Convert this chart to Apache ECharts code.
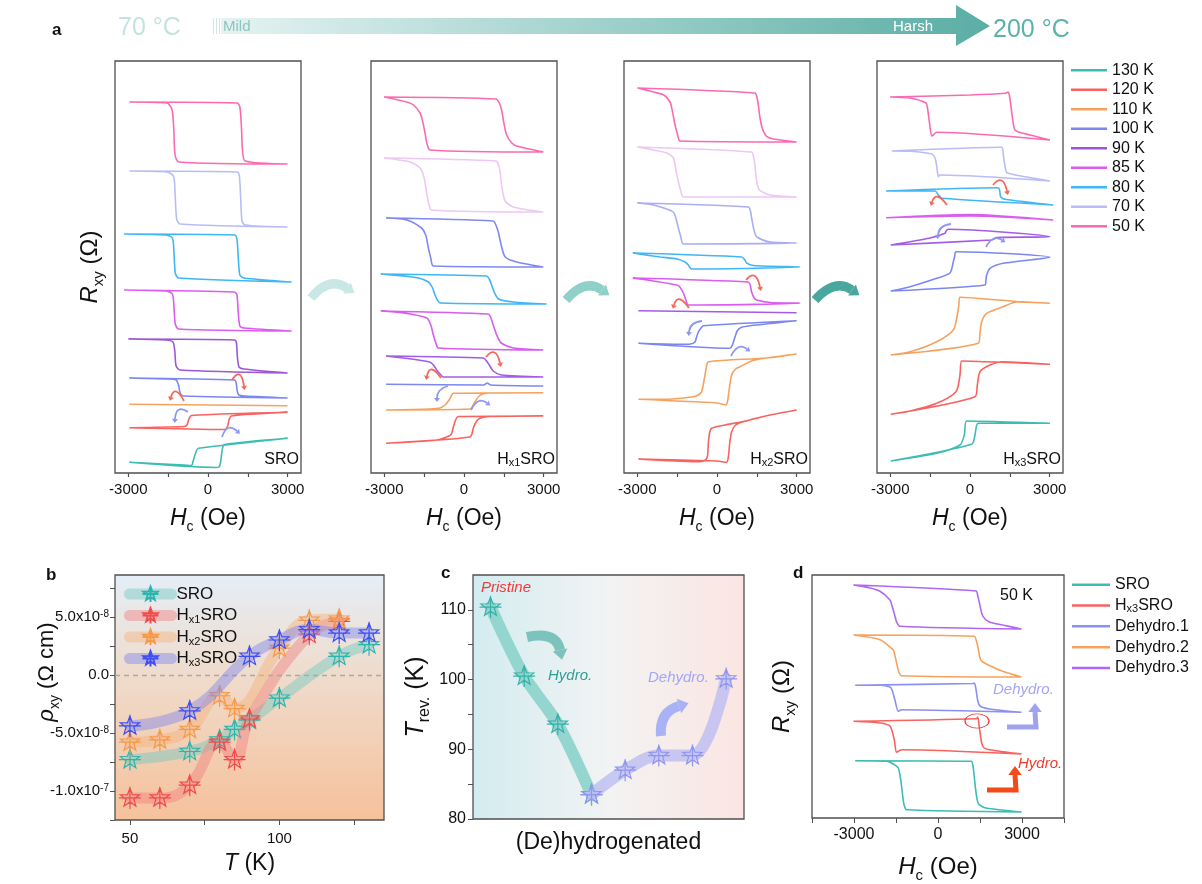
<!DOCTYPE html>
<html>
<head>
<meta charset="utf-8">
<script src="https://cdn.jsdelivr.net/npm/echarts@6/dist/echarts.min.js"></script>
<style>
  html, body { margin: 0; padding: 0; background: #fff; }
  #main { width: 1202px; height: 884px; }
</style>
</head>
<body>
<div id="main"></div>
<script>
var FONT = 'Arial, "Liberation Sans", Helvetica, sans-serif';
var INK = '#111';
var FRAME = '#505050';

// ---------------- panel a : Rxy(H) loops, points are [H (Oe), stacked Rxy offset] ----------------
var tempNames = ['50 K', '70 K', '80 K', '85 K', '90 K', '100 K', '110 K', '120 K', '130 K'];
var legendTemps = ['130 K', '120 K', '110 K', '100 K', '90 K', '85 K', '80 K', '70 K', '50 K'];
var sroColors = ['#fb6ab0', '#b9bcf5', '#3fb6f5', '#dc5cf2', '#9b58d6', '#7d87f2', '#f6a25e', '#f8625f', '#3bbdb3'];
var hx1Colors = ['#fb6ab0', '#ecc8f2', '#8088f2', '#3fb6f5', '#d75cf0', '#a35ce6', '#7d87f2', '#f6a25e', '#f8625f'];
var hx2Colors = ['#fb6ab0', '#ecc8f2', '#a9aef6', '#3fb6f5', '#dc5cf2', '#a35ce6', '#7d87f2', '#f6a25e', '#f8625f'];
var hx3Colors = ['#fb6ab0', '#b9bcf5', '#3fb6f5', '#dc5cf2', '#a35ce6', '#7d87f2', '#f6a25e', '#f8625f', '#3bbdb3'];

var sroLoops = [
  [[-2958,371],[1100,370],[1200,366],[1260,345],[1300,322],[1400,312],[2995,309],[-1100,311],[-1240,318],[-1290,345],[-1360,364],[-1550,370],[-2958,371]],
  [[-2958,302],[1100,301],[1180,297],[1230,275],[1280,252],[1400,248],[2995,246],[-1050,249],[-1180,254],[-1240,280],[-1300,297],[-1550,301],[-2958,302]],
  [[-3158,239],[1000,238],[1090,234],[1140,215],[1200,198],[1350,195],[3146,191],[-1110,195],[-1230,200],[-1280,220],[-1340,235],[-1600,238],[-3158,239]],
  [[-3158,183],[1000,181],[1090,178],[1140,160],[1200,147],[1350,145],[3146,142],[-1110,144],[-1230,149],[-1280,165],[-1340,179],[-1600,182],[-3158,183]],
  [[-2996,134],[1000,133],[1070,130],[1110,115],[1170,106],[1350,104],[2995,100],[-1050,103],[-1200,107],[-1250,122],[-1320,131],[-1600,133],[-2996,134]],
  [[-2958,95],[1000,93],[1060,90],[1100,82],[1160,78],[1400,77],[2995,75],[-930,77],[-1050,80],[-1110,88],[-1200,93],[-1600,94],[-2958,95]],
  [[-2958,68.7],[2995,67.3]],
  [[-2958,45.3],[650,43.5],[740,47],[790,53],[880,57],[2995,60.7],[-620,57.5],[-720,54],[-790,48],[-900,46.5],[-2958,45.3]],
  [[-2958,10.7],[300,5.5],[420,6],[480,12],[540,24],[620,28.5],[2995,34.7],[-360,24.7],[-440,22],[-560,12],[-620,7.5],[-900,8],[-2958,10.7]]
];
var hx1Loops = [
  [[-3008,376],[1203,374],[1330,370],[1416,363],[1500,350],[1604,338],[1800,330],[1981,327],[2983,321],[-1278,323],[-1400,330],[-1466,340],[-1560,352],[-1654,360],[-1900,368],[-2156,371],[-3008,376]],
  [[-3008,315],[1203,312],[1300,308],[1354,302],[1430,285],[1550,272],[1855,266],[2983,261],[-1216,263],[-1330,270],[-1404,280],[-1500,295],[-1650,305],[-2030,311],[-3008,315]],
  [[-2933,255],[1103,252],[1200,248],[1291,241],[1400,228],[1550,216],[1981,211],[2983,206],[-1153,207],[-1250,215],[-1341,225],[-1440,238],[-1600,245],[-2156,253],[-2933,255]],
  [[-3133,199],[852,197],[950,194],[1040,188],[1150,180],[1300,174],[1855,171],[3108,169],[-902,170],[-1000,173],[-1090,178],[-1200,186],[-1341,191],[-1700,195],[-2281,197],[-3133,199]],
  [[-3133,162],[915,159],[1000,156],[1100,148],[1230,138],[1400,130],[1855,125],[2983,123],[-965,125],[-1060,130],[-1153,138],[-1250,148],[-1400,155],[-2281,160],[-3133,162]],
  [[-2933,117],[727,115],[850,112],[950,108],[1100,102],[1400,98],[2983,96],[-777,96],[-900,99],[-1028,103],[-1150,108],[-1300,111],[-2281,115],[-2933,117]],
  [[-2933,88.7],[750,88],[870,90],[1000,88],[2983,87]],
  [[-2933,63],[226,64],[330,67],[414,71],[530,76],[700,79],[978,80],[2983,80.3],[-401,79.7],[-480,77],[-560,73],[-714,68],[-900,65],[-1300,64],[-2933,63]],
  [[-2933,29.7],[-1000,33],[226,36],[300,39],[351,45],[480,52],[620,55],[978,56.5],[2983,57],[-213,56.5],[-300,54],[-380,48],[-460,40],[-526,37.5],[-1028,33],[-2933,29.7]]
];
var hx2Loops = [
  [[-2995,385],[1429,380],[1500,376],[1554,368],[1620,355],[1700,345],[1850,337],[2118,334],[2995,331],[-1391,332],[-1480,338],[-1579,348],[-1680,362],[-1767,371],[-2000,378],[-2394,381],[-2995,385]],
  [[-2995,326],[1303,321],[1380,316],[1429,308],[1491,292],[1600,283],[1993,278],[2995,276],[-1266,276],[-1360,282],[-1454,291],[-1560,305],[-1642,315],[-1900,320],[-2394,323],[-2995,326]],
  [[-2995,270],[1178,266],[1260,262],[1303,255],[1400,242],[1500,236],[1993,231],[2995,230],[-1266,229],[-1360,236],[-1454,245],[-1550,255],[-1642,261],[-2000,265],[-2394,268],[-2995,270]],
  [[-3171,220],[927,216],[1050,213],[1115,210],[1366,207.5],[3120,206],[-953,204],[-1030,206],[-1078,208],[-1203,211],[-1500,214],[-2143,216],[-3171,220]],
  [[-3171,195],[1178,191],[1250,188],[1303,181],[1400,175],[1491,173],[1993,170.5],[3120,169.7],[-1078,168],[-1170,173],[-1266,180],[-1400,186],[-1517,188],[-2394,192],[-3171,195]],
  [[-2958,162.3],[2995,160.3]],
  [[-2958,129.7],[489,124.7],[580,128],[677,136],[760,142],[900,145.5],[1240,147.3],[2995,152.3],[-514,147.3],[-600,145],[-702,141],[-780,135],[-827,131],[-1000,129],[-1391,128.7],[-2958,129.7]],
  [[-2958,73.7],[0,70],[338,68],[400,72],[450,82],[551,98],[700,104],[865,106.3],[1300,112],[1867,115],[2995,119],[1867,115],[-326,111.3],[-400,106],[-451,98],[-520,88],[-577,81.3],[-700,78],[-890,76.3],[-2018,73.7],[-2958,73.7]],
  [[-2958,14],[0,12],[363,10.7],[426,16],[480,30],[551,41.3],[700,48],[990,51.3],[1993,58],[2995,63],[1993,58],[990,51.5],[300,48],[-201,44.7],[-280,40],[-326,30],[-364,16],[-500,12],[-765,11.3],[-2958,14]]
];
var hx3Loops = [
  [[-3008,376],[0,378],[1316,379.7],[1441,381],[1504,374],[1600,355],[1692,343],[2005,339.7],[3008,333],[-1253,340.7],[-1380,338],[-1441,337],[-1529,351],[-1600,365],[-1654,370],[-2256,375],[-3008,376]],
  [[-2945,322],[1191,325.7],[1253,318],[1330,305],[1404,300],[3008,292],[-1128,298],[-1191,296.3],[-1260,308],[-1316,315],[-1441,319],[-2256,321.7],[-2945,322]],
  [[-3158,282],[1065,285.3],[1120,282],[1153,276.3],[1316,273.7],[3133,268],[-1065,274.7],[-1150,277],[-1191,278],[-1316,282],[-3158,282]],
  [[-3158,255.3],[0,258.5],[3133,253],[0,257],[-3158,255.3]],
  [[-2983,228],[815,233],[900,234],[1003,235.5],[3008,236.3],[-815,243.7],[-900,242],[-940,239.7],[-1500,235],[-2983,228]],
  [[-2983,182],[564,188],[600,193],[627,198],[752,204.7],[1253,209.7],[3008,215.7],[-527,221.3],[-580,216],[-627,211.3],[-752,200],[-1253,194.7],[-2256,186.3],[-2983,182]],
  [[-2983,118],[313,129.7],[376,140],[439,151.3],[627,159.7],[1253,166.3],[1755,171],[3008,169.7],[1755,171.5],[-376,175.7],[-420,168],[-476,158],[-627,143],[-1253,131.3],[-2256,121.3],[-2983,118]],
  [[-2983,58.7],[188,76.3],[276,88],[376,101.3],[752,108],[1253,111.3],[3008,108.7],[-313,112],[-376,98],[-527,81.3],[-1253,69.7],[-2256,62],[-2983,58.7]],
  [[-2983,12],[63,28.7],[188,38],[313,49.7],[3008,49.7],[-125,52],[-213,38],[-376,28],[-1253,19.7],[-2983,12]]
];
var panelTags = ['SRO', 'H{s|x1}SRO', 'H{s|x2}SRO', 'H{s|x3}SRO'];
var hTicks = [-3000, -1500, 0, 1500, 3000];
var hLabels = [-3000, 0, 3000];

// ---------------- panel b : rho_xy (units of 1e-8 Ohm cm) vs T ----------------
var sroT = [50, 70, 80, 85, 90, 100, 120, 130];
var sroRho = [-7.3, -6.6, -5.6, -4.7, -3.9, -2.0, 1.6, 2.6];
var hx1T = [50, 60, 70, 80, 85, 90, 110, 120];
var hx1Rho = [-10.6, -10.6, -9.5, -5.8, -7.3, -3.8, 3.5, 4.6];
var hx2T = [50, 60, 70, 80, 85, 100, 110, 120];
var hx2Rho = [-5.8, -5.6, -4.7, -1.8, -2.9, 2.3, 4.7, 4.8];
var hx3T = [50, 70, 90, 100, 110, 120, 130];
var hx3Rho = [-4.4, -3.1, 1.6, 3.0, 3.9, 3.6, 3.6];
var bNames = ['SRO', 'Hx1SRO', 'Hx2SRO', 'Hx3SRO'];
var bStar = ['#2cb5ad', '#f04c4c', '#f59a4a', '#3f4ff2'];
var bBand = ['#6cc9c2', '#f17f7f', '#f5b27a', '#7e86ee'];
var tTicks = [50, 75, 100, 125];
var tLabels = [50, 100];
var rhoLabels = [-10, -5, 0, 5];

// ---------------- panel c : reversal temperature ----------------
var hydroStep = [0, 1, 2, 3];
var hydroTrev = [110.4, 100.5, 93.6, 83.5];
var dehydroStep = [3, 4, 5, 6, 7];
var dehydroTrev = [83.5, 87.0, 89.1, 89.1, 100.1];
var trevLabels = [80, 90, 100, 110];

// ---------------- panel d : 50 K loops ----------------
var dNames = ['SRO ', 'Hx3SRO ', 'Dehydro.1', 'Dehydro.2', 'Dehydro.3'];
var dColors = ['#3bbdb3', '#f8625f', '#8a90f2', '#f6a25e', '#b068f2'];
var dLoops = [
  [[-2958,57.3],[1184,56.7],[1250,52],[1300,40],[1361,25],[1450,14],[1717,10],[2983,6],[-1123,8.3],[-1200,12],[-1242,18],[-1330,38],[-1420,50],[-1597,54],[-1833,56.7],[-2958,57.3]],
  [[-3017,96.7],[1361,99.3],[1421,101],[1470,92],[1560,75],[1650,70],[1835,68.3],[2983,64],[-1301,68.3],[-1478,65.7],[-1560,78],[-1715,92],[-2070,95],[-3017,96.7]],
  [[-2958,132.7],[1243,134.5],[1302,135],[1361,128],[1421,117],[1500,112],[1835,109],[2983,105.7],[-1301,108.3],[-1419,106.7],[-1538,118],[-1640,128],[-1715,131],[-2070,132.7],[-2958,132.7]],
  [[-3017,183],[1302,181.7],[1361,178],[1421,171.7],[1500,160],[1598,156],[2308,146.7],[2983,141],[-1301,142.3],[-1400,146],[-1478,155],[-1560,165],[-1597,168],[-2070,178.3],[-3017,183]],
  [[-3017,233],[1361,227],[1420,222],[1480,215],[1598,202],[1835,196],[2308,193],[2983,189],[-1360,191.7],[-1478,196],[-1538,202],[-1640,212],[-1715,218],[-2070,226.7],[-2425,230],[-3017,233]]
];

// ---------------------------------------------------------------------------------
var chart = echarts.init(document.getElementById('main'), null, { renderer: 'canvas' });

function nameRich(size) {
  var s = Math.round(size * 0.62);
  return {
    i: { fontSize: size, fontStyle: 'italic', fontFamily: FONT, color: INK, lineHeight: size + 8 },
    n: { fontSize: size, fontFamily: FONT, color: INK, lineHeight: size + 8 },
    s: { fontSize: s, fontFamily: FONT, color: INK, verticalAlign: 'bottom', lineHeight: s + 2 }
  };
}
function zipPts(xs, ys) {
  return xs.map(function (x, k) { return [x, ys[k]]; });
}
function plain(v) { return String(v); }
var starPath = 'path://M12,1L14.65,8.36L22.46,8.6L16.28,13.39L18.47,20.9L12,16.5L5.53,20.9L7.72,13.39L1.54,8.6L9.35,8.36Z M0,12L24,12 M12,0L12,24';

var grid = [], xAxis = [], yAxis = [], series = [];
var aLefts = [115, 371, 624, 877];
var aLoops = [sroLoops, hx1Loops, hx2Loops, hx3Loops];
var aColors = [sroColors, hx1Colors, hx2Colors, hx3Colors];

aLefts.forEach(function (left, p) {
  grid.push({ left: left, top: 61, width: 186, height: 412, show: true, borderColor: FRAME, borderWidth: 1.3 });
  xAxis.push({
    gridIndex: p, type: 'value', min: -3500, max: 3500,
    axisLine: { show: false, onZero: false },
    axisTick: { show: true, length: 4, customValues: hTicks, lineStyle: { color: FRAME, width: 1.2 } },
    axisLabel: { customValues: hLabels, formatter: plain, fontSize: 15, color: INK, fontFamily: FONT, margin: 9 },
    splitLine: { show: false },
    name: '{i|H}{s|c}{n| (Oe)}', nameLocation: 'middle', nameGap: 30,
    nameTextStyle: { rich: nameRich(23) }
  });
  var ya = {
    gridIndex: p, type: 'value', min: 0, max: 412,
    axisLine: { show: false, onZero: false }, axisTick: { show: false }, axisLabel: { show: false }, splitLine: { show: false }
  };
  if (p === 0) {
    ya.name = '{i|R}{s|xy}{n| (Ω)}';
    ya.nameLocation = 'middle';
    ya.nameGap = 9;
    ya.nameTextStyle = { rich: nameRich(24) };
  }
  yAxis.push(ya);
  aLoops[p].forEach(function (pts, k) {
    series.push({
      type: 'line', name: tempNames[k], xAxisIndex: p, yAxisIndex: p, data: pts,
      symbol: 'none', showSymbol: false, smooth: 0.25, silent: true,
      lineStyle: { color: aColors[p][k], width: 1.6 }, itemStyle: { color: aColors[p][k] }
    });
  });
});

// panel b (grid 4)
grid.push({
  left: 115, top: 575, width: 269, height: 245, show: true, borderColor: FRAME, borderWidth: 1.3,
  backgroundColor: { type: 'linear', x: 0, y: 0, x2: 0, y2: 1, colorStops: [
    { offset: 0, color: '#e5eef7' }, { offset: 0.4, color: '#efdccd' }, { offset: 1, color: '#f6c19b' }] }
});
xAxis.push({
  gridIndex: 4, type: 'value', min: 45, max: 135,
  axisLine: { show: false, onZero: false },
  axisTick: { show: true, length: 5, customValues: tTicks, lineStyle: { color: FRAME } },
  axisLabel: { customValues: tLabels, formatter: plain, fontSize: 15, color: INK, fontFamily: FONT, margin: 11 },
  splitLine: { show: false },
  name: '{i|T}{n| (K)}', nameLocation: 'middle', nameGap: 28, nameTextStyle: { rich: nameRich(23) }
});
yAxis.push({
  gridIndex: 4, type: 'value', min: -12.5, max: 8.6, interval: 2.5,
  axisLine: { show: false, onZero: false },
  axisTick: { show: true, length: 5, lineStyle: { color: FRAME } },
  axisLabel: {
    fontSize: 15, color: INK, fontFamily: FONT, margin: 6, showMaxLabel: false,
    formatter: function (v) {
      if (rhoLabels.indexOf(v) < 0) return '';
      if (v === 0) return '0.0';
      var e = v <= -10 ? -7 : -8;
      return (v / (e === -7 ? 10 : 1)).toFixed(1) + 'x10{sup|' + e + '}';
    },
    rich: { sup: { fontSize: 10, fontFamily: FONT, color: INK, verticalAlign: 'top', lineHeight: 10 } }
  },
  splitLine: { show: false }
});
[[sroT, sroRho], [hx1T, hx1Rho], [hx2T, hx2Rho], [hx3T, hx3Rho]].forEach(function (d, k) {
  var s = {
    type: 'line', name: bNames[k], xAxisIndex: 4, yAxisIndex: 4, data: zipPts(d[0], d[1]),
    smooth: 0.45, symbol: starPath, symbolSize: 22, silent: true, z: 3 + k,
    lineStyle: { color: bBand[k], width: 11, opacity: 0.45, cap: 'round' },
    itemStyle: { color: 'rgba(255,255,255,0)', borderColor: bStar[k], borderWidth: 1.2 }
  };
  if (k === 0) {
    s.markLine = {
      silent: true, symbol: 'none', label: { show: false },
      lineStyle: { color: '#a9a9a9', type: [5, 4], width: 1.3 },
      data: [{ yAxis: 0 }]
    };
  }
  series.push(s);
});

// panel c (grid 5)
grid.push({
  left: 473, top: 575, width: 271, height: 244, show: true, borderColor: FRAME, borderWidth: 1.3,
  backgroundColor: { type: 'linear', x: 0, y: 0, x2: 1, y2: 0, colorStops: [
    { offset: 0, color: '#d3ecf0' }, { offset: 0.5, color: '#f2f3f3' }, { offset: 1, color: '#fbe5e2' }] }
});
xAxis.push({
  gridIndex: 5, type: 'value', min: -0.52, max: 7.53,
  axisLine: { show: false, onZero: false }, axisTick: { show: false }, axisLabel: { show: false }, splitLine: { show: false },
  name: '(De)hydrogenated', nameLocation: 'middle', nameGap: 12,
  nameTextStyle: { fontSize: 23, fontFamily: FONT, color: INK, verticalAlign: 'top' }
});
yAxis.push({
  gridIndex: 5, type: 'value', min: 80, max: 115, interval: 5,
  axisLine: { show: false, onZero: false },
  axisTick: { show: true, length: 5, lineStyle: { color: FRAME } },
  axisLabel: {
    fontSize: 16, color: INK, fontFamily: FONT, margin: 7, showMaxLabel: false,
    formatter: function (v) { return trevLabels.indexOf(v) < 0 ? '' : String(v); }
  },
  splitLine: { show: false },
  name: '{i|T}{s|rev.}{n| (K)}', nameLocation: 'middle', nameGap: 40, nameTextStyle: { rich: nameRich(25) }
});
series.push({
  type: 'line', name: 'Hydro.', xAxisIndex: 5, yAxisIndex: 5, data: zipPts(hydroStep, hydroTrev),
  smooth: 0.3, symbol: starPath, symbolSize: 22, silent: true, z: 3,
  lineStyle: { color: '#86d0c9', width: 12, opacity: 0.85, cap: 'round' },
  itemStyle: { color: 'rgba(255,255,255,0)', borderColor: '#35b1a8', borderWidth: 1.2 }
});
series.push({
  type: 'line', name: 'Dehydro.', xAxisIndex: 5, yAxisIndex: 5, data: zipPts(dehydroStep, dehydroTrev),
  smooth: 0.35, symbol: starPath, symbolSize: 22, silent: true, z: 4,
  lineStyle: { color: '#bcbdf2', width: 12, opacity: 0.8, cap: 'round' },
  itemStyle: { color: 'rgba(255,255,255,0)', borderColor: '#8f95f0', borderWidth: 1.2 }
});

// panel d (grid 6)
grid.push({ left: 812, top: 575, width: 252, height: 243, show: true, borderColor: FRAME, borderWidth: 1.3 });
xAxis.push({
  gridIndex: 6, type: 'value', min: -4500, max: 4500, interval: 1500,
  axisLine: { show: false, onZero: false },
  axisTick: { show: true, length: 5, lineStyle: { color: FRAME } },
  axisLabel: {
    fontSize: 16, color: INK, fontFamily: FONT, margin: 9,
    formatter: function (v) { return v % 3000 === 0 ? String(v) : ''; }
  },
  splitLine: { show: false },
  name: '{i|H}{s|c}{n| (Oe)}', nameLocation: 'middle', nameGap: 33, nameTextStyle: { rich: nameRich(24) }
});
yAxis.push({
  gridIndex: 6, type: 'value', min: 0, max: 243,
  axisLine: { show: false, onZero: false }, axisTick: { show: false }, axisLabel: { show: false }, splitLine: { show: false },
  name: '{i|R}{s|xy}{n| (Ω)}', nameLocation: 'middle', nameGap: 14, nameTextStyle: { rich: nameRich(24) }
});
dLoops.forEach(function (pts, k) {
  series.push({
    type: 'line', name: dNames[k], xAxisIndex: 6, yAxisIndex: 6, data: pts,
    symbol: 'none', showSymbol: false, smooth: 0.25, silent: true,
    lineStyle: { color: dColors[k], width: 1.6 }, itemStyle: { color: dColors[k] }
  });
});

// ---------------- annotations ----------------
var graphics = [];
function txt(x, y, text, o) {
  o = o || {};
  graphics.push({
    type: 'text', x: x, y: y, rotation: o.rot || 0, z: 50, silent: true,
    style: {
      text: text, fill: o.color || INK, fontSize: o.size || 16, fontFamily: FONT,
      fontWeight: o.weight || 'normal', fontStyle: o.style || 'normal',
      align: o.align || 'left', verticalAlign: o.va || 'middle', rich: o.rich
    }
  });
}
function head(x, y, dx, dy, size, color) {
  var len = Math.sqrt(dx * dx + dy * dy), ux = dx / len, uy = dy / len, px = -uy, py = ux;
  graphics.push({
    type: 'polygon', z: 40, silent: true,
    shape: { points: [[x + ux * size, y + uy * size], [x + px * size * 0.75, y + py * size * 0.75], [x - px * size * 0.75, y - py * size * 0.75]] },
    style: { fill: color }
  });
}
function curved(p1, c, p2, color, w, hs) {
  graphics.push({
    type: 'bezierCurve', z: 40, silent: true,
    shape: { x1: p1[0], y1: p1[1], cpx1: c[0], cpy1: c[1], x2: p2[0], y2: p2[1] },
    style: { stroke: color, lineWidth: w, fill: 'none' }
  });
  head(p2[0], p2[1], p2[0] - c[0], p2[1] - c[1], hs, color);
}

// top process arrow
graphics.push({
  type: 'polygon', z: 5, silent: true,
  shape: { points: [[221, 18], [956, 18], [956, 5], [990, 26], [956, 46], [956, 34], [221, 34]] },
  style: { fill: { type: 'linear', x: 0, y: 0, x2: 1, y2: 0, colorStops: [
    { offset: 0, color: '#e5f3f2' }, { offset: 1, color: '#5aaea5' }] } }
});
[213, 216, 219].forEach(function (x) {
  graphics.push({ type: 'rect', z: 5, silent: true, shape: { x: x, y: 18, width: 1, height: 16 }, style: { fill: '#cfe8e6' } });
});
txt(118, 28, '70 °C', { size: 25, color: '#c3e3e0' });
txt(223, 27, 'Mild', { size: 15, color: '#8cc6c1' });
txt(893, 27, 'Harsh', { size: 15, color: '#ffffff' });
txt(993, 30, '200 °C', { size: 25, color: '#5cb2a8' });

// panel letters
txt(52, 30, 'a', { size: 17, weight: 'bold' });
txt(46, 575, 'b', { size: 17, weight: 'bold' });
txt(441, 573, 'c', { size: 17, weight: 'bold' });
txt(793, 573, 'd', { size: 17, weight: 'bold' });

// sample tags in panel a
var tagRich = { s: { fontSize: 11, fontFamily: FONT, color: INK, verticalAlign: 'bottom', lineHeight: 12 } };
panelTags.forEach(function (t, p) {
  txt(aLefts[p] + 184, 460, t, { size: 16, align: 'right', rich: tagRich });
});

// arrows between panels of a
curved([311, 298], [329, 276], [347, 288], '#c9e7e4', 9, 9);
curved([566, 300], [585, 278], [602, 290], '#8fd0c9', 9, 9);
curved([815, 300], [835, 278], [852, 290], '#4aa79e', 9, 9);

// small switching arrows in a
var RA = '#f36a5a', BA = '#8f97f0';
[
  [[232, 380], [241, 366], [244, 386], RA], [[184, 401], [175, 384], [171, 397], RA],
  [[188, 412], [176, 404], [175, 419], BA], [[222, 437], [227, 422], [237, 431], BA],
  [[486, 357], [496, 345], [500, 363], RA], [[441, 378], [430, 362], [427, 376], RA],
  [[448, 386], [437, 389], [437, 398], BA], [[471, 410], [478, 396], [487, 403], BA],
  [[746, 280], [756, 268], [760, 287], RA], [[689, 308], [678, 292], [674, 305], RA],
  [[702, 321], [690, 322], [689, 332], BA], [[731, 356], [738, 342], [747, 349], BA],
  [[993, 185], [1003, 173], [1007, 191], RA], [[947, 205], [936, 190], [932, 202], RA],
  [[951, 224], [939, 225], [938, 235], BA], [[986, 247], [993, 234], [1002, 240], BA]
].forEach(function (a) { curved(a[0], a[1], a[2], a[3], 1.8, 4); });

// panel b y-axis name
txt(47, 672, '{i|ρ}{s|xy}{n| (Ω cm)}', { rot: Math.PI / 2, align: 'center', rich: nameRich(22) });

// panel c annotations
txt(481, 588, 'Pristine', { size: 15, style: 'italic', color: '#f03a3a' });
txt(548, 676, 'Hydro.', { size: 15, style: 'italic', color: '#2e9f97' });
txt(648, 678, 'Dehydro.', { size: 15, style: 'italic', color: '#a3a6f2' });
curved([527, 637], [556, 631], [560, 650], '#7cc3bd', 10, 10);
curved([661, 736], [659, 712], [679, 706], '#a9b2f5', 10, 10);

// panel d annotations
txt(1000, 596, '50 K', { size: 16 });
txt(993, 690, 'Dehydro.', { size: 15, style: 'italic', color: '#a3a6f2' });
txt(1018, 764, 'Hydro.', { size: 15, style: 'italic', color: '#f23a2a' });
graphics.push({ type: 'polyline', z: 40, silent: true, shape: { points: [[1007, 727], [1036, 727], [1035, 712]] }, style: { stroke: '#a2a3f0', lineWidth: 5, fill: 'none' } });
head(1035, 712, 0, -1, 9, '#a2a3f0');
graphics.push({ type: 'polyline', z: 40, silent: true, shape: { points: [[987, 790], [1016, 790], [1015, 775]] }, style: { stroke: '#f24a1a', lineWidth: 5, fill: 'none' } });
head(1015, 775, 0, -1, 9, '#f24a1a');
graphics.push({
  type: 'circle', x: 977, y: 721, scaleY: 0.6, z: 40, silent: true,
  shape: { cx: 0, cy: 0, r: 12 }, style: { fill: 'none', stroke: '#e84040', lineWidth: 1.3, strokeNoScale: true }
});

function legendFmt(name) {
  var m = name.trim().match(/^H(x\d)SRO$/);
  return m ? 'H{s|' + m[1] + '}SRO' : name.trim();
}
var legendRich = { s: { fontSize: 11, verticalAlign: 'bottom', lineHeight: 12, fontFamily: FONT, color: INK } };

chart.setOption({
  backgroundColor: '#ffffff',
  animation: false,
  textStyle: { fontFamily: FONT },
  grid: grid,
  xAxis: xAxis,
  yAxis: yAxis,
  series: series,
  graphic: { elements: graphics },
  legend: [
    {
      data: legendTemps, orient: 'vertical', left: 1066, top: 57, itemWidth: 36, itemHeight: 2.5, itemGap: 3,
      icon: 'rect', selectedMode: false,
      textStyle: { fontSize: 16, color: INK, lineHeight: 16.5, fontFamily: FONT }
    },
    {
      data: bNames, orient: 'vertical', left: 119, top: 579, itemWidth: 42, itemHeight: 20, itemGap: 1.5,
      selectedMode: false, formatter: legendFmt, lineStyle: { width: 11, opacity: 0.45, cap: 'round' },
      textStyle: { fontSize: 17, color: INK, lineHeight: 20, fontFamily: FONT, rich: legendRich }
    },
    {
      data: dNames, orient: 'vertical', left: 1067, top: 571, itemWidth: 38, itemHeight: 2.5, itemGap: 3.3,
      icon: 'rect', selectedMode: false, formatter: legendFmt,
      textStyle: { fontSize: 16, color: INK, lineHeight: 17.5, fontFamily: FONT, rich: legendRich }
    }
  ]
});
</script>
</body>
</html>
